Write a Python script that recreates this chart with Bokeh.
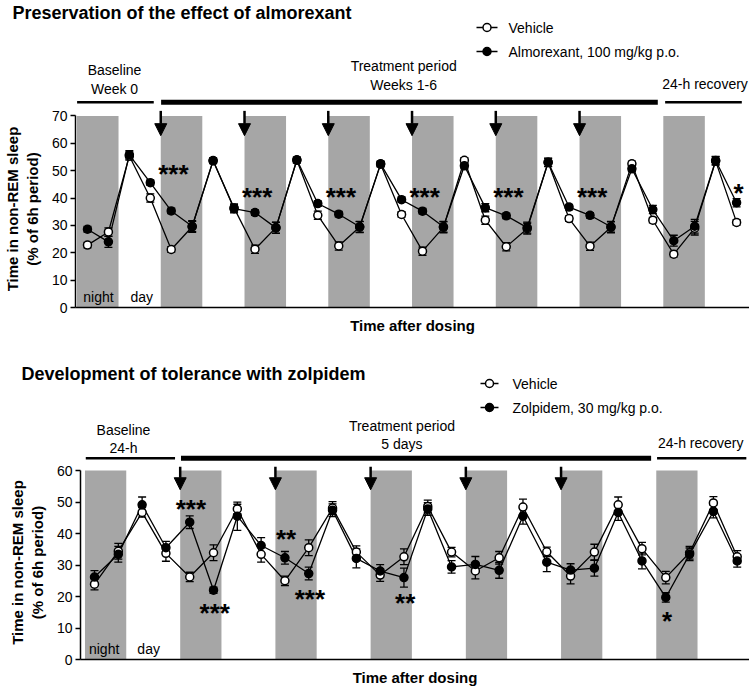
from bokeh.plotting import figure
from bokeh.layouts import column
from bokeh.models import (ColumnDataSource, Range1d, LinearAxis, FixedTicker, Whisker,
                          TeeHead, Arrow, NormalHead)
from bokeh.embed import file_html
from bokeh.resources import INLINE
from bokeh.core.properties import value

FONT = "Liberation Sans"
PAGE_W = 749
GREY = "#a6a6a6"

# ---------------- Panel A: almorexant ----------------
a_title = "Preservation of the effect of almorexant"
a_drug_label = "Almorexant, 100 mg/kg p.o."
a_hours = [3, 9, 15, 21, 27, 33, 39, 45, 51, 57, 63, 69, 75, 81, 87, 93,
           99, 105, 111, 117, 123, 129, 135, 141, 147, 153, 159, 165, 171, 177, 183, 189]
a_vehicle = [22.8, 27.6, 55.4, 40.0, 21.2, 29.5, 53.6, 36.4, 21.3, 29.2, 53.8, 33.7, 22.5, 29.4, 52.4, 34.0,
             20.6, 29.3, 53.8, 31.9, 22.2, 28.8, 53.0, 32.5, 22.4, 29.3, 52.5, 31.9, 19.5, 29.0, 53.5, 31.1]
a_vehicle_sem = [1.0, 1.5, 1.5, 1.5, 1.0, 2.0, 1.0, 1.5, 1.5, 2.0, 1.0, 1.5, 1.5, 2.0, 1.0, 1.0,
                 1.5, 2.0, 1.0, 1.5, 1.5, 2.0, 1.5, 1.0, 1.5, 2.0, 1.0, 1.0, 1.0, 2.5, 1.5, 1.0]
a_drug = [28.6, 24.0, 55.8, 45.6, 35.3, 29.7, 53.7, 36.1, 34.7, 29.1, 54.0, 38.0, 34.1, 29.5, 52.5, 39.4,
          35.2, 29.5, 51.8, 36.5, 33.5, 29.2, 53.1, 36.7, 33.7, 29.5, 50.7, 35.8, 24.4, 29.7, 53.7, 38.3]
a_drug_sem = [1.0, 2.0, 1.5, 1.0, 1.0, 2.0, 1.0, 1.5, 1.0, 2.0, 1.0, 1.0, 1.0, 2.0, 1.0, 1.0,
              1.0, 2.0, 1.0, 1.5, 1.0, 2.0, 1.5, 1.0, 1.0, 2.0, 1.0, 1.5, 2.0, 2.5, 1.5, 1.5]
a_nights = [0, 24, 48, 72, 96, 120, 144, 168]
a_doses = [24, 48, 72, 96, 120, 144]
a_periods = ["Baseline\nWeek 0", "Treatment period\nWeeks 1-6", "24-h recovery"]
a_period_start = [0, 24, 168]
a_period_end = [24, 168, 192]
a_star_idx = [4, 8, 12, 16, 20, 24, 31]
a_star_text = ["***", "***", "***", "***", "***", "***", "*"]
a_star_y = [50, 41.6, 41.6, 41.6, 41.6, 41.6, 42.8]
a_yticks = [0, 10, 20, 30, 40, 50, 60, 70]

# ---------------- Panel B: zolpidem ----------------
b_title = "Development of tolerance with zolpidem"
b_drug_label = "Zolpidem, 30 mg/kg p.o."
b_hours = [3, 9, 15, 21, 27, 33, 39, 45, 51, 57, 63, 69, 75, 81,
           87, 93, 99, 105, 111, 117, 123, 129, 135, 141, 147, 153, 159, 165]
b_vehicle = [23.9, 34.4, 46.7, 33.7, 26.2, 33.9, 47.8, 33.4, 25.0, 35.5, 48.1, 34.1, 26.8, 32.6,
             48.6, 34.1, 28.1, 32.3, 48.4, 34.2, 26.5, 34.1, 49.1, 35.2, 26.0, 33.9, 49.7, 32.6]
b_vehicle_sem = [1.8, 2.5, 1.5, 2.5, 1.5, 2.5, 1.5, 2.5, 1.5, 2.5, 2.0, 2.0, 2.0, 2.5,
                 2.0, 1.5, 2.5, 2.0, 2.5, 1.5, 2.5, 2.5, 2.5, 2.0, 2.0, 2.0, 2.0, 2.0]
b_drug = [26.2, 33.4, 49.1, 35.5, 43.6, 22.0, 45.5, 36.2, 32.3, 27.3, 47.4, 32.1, 28.1, 26.0,
          47.8, 29.4, 30.2, 28.3, 45.5, 30.9, 28.4, 29.0, 46.7, 31.3, 19.7, 33.4, 47.0, 31.3]
b_drug_sem = [2.0, 2.5, 2.5, 2.0, 2.0, 1.0, 4.5, 2.5, 2.0, 2.0, 2.0, 3.0, 2.0, 3.0,
              2.0, 2.0, 2.5, 2.5, 2.5, 3.0, 2.0, 2.5, 2.5, 2.5, 1.5, 2.0, 2.0, 2.0]
b_nights = [0, 24, 48, 72, 96, 120, 144]
b_doses = [24, 48, 72, 96, 120]
b_periods = ["Baseline\n24-h", "Treatment period\n5 days", "24-h recovery"]
b_period_start = [0, 24, 144]
b_period_end = [24, 144, 168]
b_star_idx = [4, 5, 8, 9, 13, 24]
b_star_text = ["***", "***", "**", "***", "**", "*"]
b_star_y = [48.8, 15.6, 39.1, 20.1, 19.0, 13.3]
b_yticks = [0, 10, 20, 30, 40, 50, 60]

Y_LABEL = "Time in non-REM sleep\n(% of 6h period)"
X_LABEL = "Time after dosing"

cfg_a = dict(left=73, xr=(-0.43, 192.7), header_h=106, top_b=4, frame_h=198, bottom_h=28,
             y_top=72, band=(0.0, 11.9), title_img_x=12, title_y=94,
             leg_line=(476, 497), leg_text_x=508, leg_y=[79, 55],
             bar_y=4.3, bar_in=(0.6, 1.5), label_x=[11.3, 93.9, 180.0], label_y=[27, 31, 23],
             arrow_y=(71.9, 62.8), star_dx=0.6, nd_x=[1.8, 15.3], nd_y=4.0)
cfg_b = dict(left=80, xr=(-0.53, 168.1), header_h=125, top_b=4, frame_h=196, bottom_h=27,
             y_top=61.6, band=(0.6, 11.0), title_img_x=21, title_y=88,
             leg_line=(480, 498), leg_text_x=512, leg_y=[78, 54],
             bar_y=3.2, bar_in=(0.8, 0.7), label_x=[10.3, 80.5, 155.8], label_y=[22.5, 26.5, 19],
             arrow_y=(61.2, 53.9), star_dx=0.3, nd_x=[1.6, 13.8], nd_y=3.4)


def build_panel(title, drug_label, hours, veh, veh_sem, drug, drug_sem, nights, doses,
                periods, p_start, p_end, star_idx, star_text, star_y, yticks, cfg):
    left = cfg["left"]
    x0, x1 = cfg["xr"]
    pph = (PAGE_W - left) / (x1 - x0)
    hx0 = x0 - left / pph

    def img2h(img_x):
        return hx0 + img_x / pph

    # ---------- header strip (title, legend, period bars) ----------
    hh = cfg["header_h"]
    head = figure(width=PAGE_W, height=hh, x_range=Range1d(hx0, x1), y_range=Range1d(0, hh),
                  output_backend="svg", toolbar_location=None, min_border=0,
                  x_axis_location=None, y_axis_location=None, outline_line_color=None,
                  frame_align=False)
    head.grid.visible = False

    head.text(x=[img2h(cfg["title_img_x"])], y=[cfg["title_y"]], text=[title],
              text_font=value(FONT), text_font_style="bold", text_font_size="18px",
              text_align="left", text_baseline="middle", text_color="black")

    bx0 = [s + cfg["bar_in"][0] for s in p_start]
    bx1 = [e - cfg["bar_in"][1] for e in p_end]
    head.segment(x0=bx0, y0=[cfg["bar_y"]] * 3, x1=bx1, y1=[cfg["bar_y"]] * 3,
                 line_width=[2.5, 5, 2.5], line_color="black")
    head.text(x=cfg["label_x"], y=cfg["label_y"], text=periods, text_align="center",
              text_baseline="middle", text_font=value(FONT), text_font_size="14px",
              text_line_height=1.15, text_color="black")

    # legend: line + marker + label
    lx0, lx1 = img2h(cfg["leg_line"][0]), img2h(cfg["leg_line"][1])
    lys = cfg["leg_y"]
    head.segment(x0=[lx0, lx0], y0=lys, x1=[lx1, lx1], y1=lys, line_color="black", line_width=1.3)
    head.scatter(x=[(lx0 + lx1) / 2] * 2, y=lys, marker="circle", size=8,
                 fill_color=["white", "black"], line_color="black", line_width=1.5)
    head.text(x=[img2h(cfg["leg_text_x"])] * 2, y=lys, text=["Vehicle", drug_label],
              text_align="left", text_baseline="middle", text_font=value(FONT),
              text_font_size="14px", text_color="black")

    # ---------- main plot ----------
    fh, bh, tb = cfg["frame_h"], cfg["bottom_h"], cfg["top_b"]
    p = figure(width=PAGE_W, height=tb + fh + bh, x_range=Range1d(x0, x1),
               y_range=Range1d(0, cfg["y_top"]), output_backend="svg", toolbar_location=None,
               min_border_left=left, min_border_right=0, min_border_top=tb, min_border_bottom=bh,
               x_axis_location=None, y_axis_location=None, outline_line_color=None,
               frame_align=False)
    p.grid.visible = False

    yax = LinearAxis(bounds=(0, yticks[-1]), ticker=FixedTicker(ticks=yticks),
                     axis_label=Y_LABEL, axis_label_text_font=FONT,
                     axis_label_text_font_style="bold", axis_label_text_font_size="15px",
                     axis_label_standoff=8, axis_line_width=1.5, axis_line_color="black",
                     major_tick_line_width=1.5, major_tick_line_color="black",
                     major_tick_out=5, major_tick_in=0, minor_tick_out=0, minor_tick_in=0,
                     major_label_text_font=FONT, major_label_text_font_size="14px",
                     major_label_standoff=3, major_label_text_color="black",
                     axis_label_text_color="black")
    p.add_layout(yax, "left")
    xax = LinearAxis(ticker=FixedTicker(ticks=[]), axis_label=X_LABEL,
                     axis_label_text_font=FONT, axis_label_text_font_style="bold",
                     axis_label_text_font_size="15px", axis_label_standoff=9,
                     axis_label_text_color="black",
                     axis_line_width=1.5, axis_line_color="black", major_tick_out=0,
                     major_tick_in=0, minor_tick_out=0, minor_tick_in=0, major_label_standoff=0)
    p.add_layout(xax, "below")

    p.quad(left=[n + cfg["band"][0] for n in nights], right=[n + cfg["band"][1] for n in nights],
           bottom=0, top=yticks[-1], fill_color=GREY, line_color=None, level="image")

    for vals, sem in ((veh, veh_sem), (drug, drug_sem)):
        src = ColumnDataSource(dict(x=hours,
                                    upper=[v + s for v, s in zip(vals, sem)],
                                    lower=[v - s for v, s in zip(vals, sem)]))
        p.add_layout(Whisker(source=src, base="x", upper="upper", lower="lower",
                             dimension="height", line_color="black", line_width=1.3,
                             level="underlay",
                             upper_head=TeeHead(size=8, line_width=1.3, line_color="black"),
                             lower_head=TeeHead(size=8, line_width=1.3, line_color="black")))

    p.line(hours, veh, line_color="black", line_width=1.3)
    p.line(hours, drug, line_color="black", line_width=1.3)
    p.scatter(hours, veh, marker="circle", size=8, fill_color="white", line_color="black",
              line_width=1.5)
    p.scatter(hours, drug, marker="circle", size=8, fill_color="black", line_color="black",
              line_width=1.5)

    ax = [d + cfg["band"][0] for d in doses]
    asrc = ColumnDataSource(dict(x=ax, ys=[cfg["arrow_y"][0]] * len(ax),
                                 ye=[cfg["arrow_y"][1]] * len(ax)))
    p.add_layout(Arrow(end=NormalHead(size=12, fill_color="black", line_color="black",
                                      line_width=1),
                       x_start="x", y_start="ys", x_end="x", y_end="ye", source=asrc,
                       line_width=2.5, line_color="black"))

    p.text(x=[hours[i] + cfg["star_dx"] for i in star_idx], y=star_y, text=star_text,
           text_align="center", text_baseline="alphabetic", y_offset=3,
           text_font=value(FONT), text_font_style="bold", text_font_size="26px",
           text_color="black")

    p.text(x=cfg["nd_x"], y=[cfg["nd_y"]] * 2, text=["night", "day"], text_align="left",
           text_baseline="middle", text_font=value(FONT), text_font_size="14px",
           text_color="black")
    return head, p


ha, pa = build_panel(a_title, a_drug_label, a_hours, a_vehicle, a_vehicle_sem, a_drug, a_drug_sem,
                     a_nights, a_doses, a_periods, a_period_start, a_period_end,
                     a_star_idx, a_star_text, a_star_y, a_yticks, cfg_a)
hb, pb = build_panel(b_title, b_drug_label, b_hours, b_vehicle, b_vehicle_sem, b_drug, b_drug_sem,
                     b_nights, b_doses, b_periods, b_period_start, b_period_end,
                     b_star_idx, b_star_text, b_star_y, b_yticks, cfg_b)

layout = column(ha, pa, hb, pb, spacing=0)
open("out.html", "w").write(file_html(layout, INLINE))
